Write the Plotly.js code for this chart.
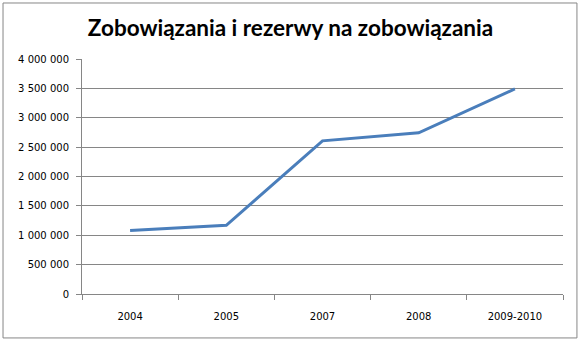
<!DOCTYPE html>
<html><head><meta charset="utf-8">
<script src="https://cdn.plot.ly/plotly-3.0.1.min.js"></script>
<style>html,body{margin:0;padding:0;background:#fff;}#chart{width:581px;height:341px;}</style>
</head><body><div id="chart"></div>
<script>
const categories = ["2004", "2005", "2007", "2008", "2009-2010"];
const values = [1080000, 1170000, 2607000, 2743000, 3490000];
const yTicks = [0, 500000, 1000000, 1500000, 2000000, 2500000, 3000000, 3500000, 4000000];
const titleText = "Zobowiązania i rezerwy na zobowiązania";

const trace = {
  x: categories, y: values, type: "scatter", mode: "lines",
  line: {color: "#4a7ebb", width: 3}, hoverinfo: "skip"
};
const layout = {
  width: 581, height: 341,
  margin: {l: 82, r: 18, t: 59, b: 47},
  paper_bgcolor: "#fff", plot_bgcolor: "#fff",
  separators: ", ",
  showlegend: false,
  title: {text: titleText, x: 0.5, xref: "container", xanchor: "center", y: 0.917, yanchor: "middle",
    font: {family: "Lato", size: 22.5, color: "#000", weight: "bold"}},
  xaxis: {type: "category", range: [-0.5, 4.5], tickson: "boundaries",
    showgrid: false, showline: true, linecolor: "#868686", linewidth: 1,
    ticks: "outside", ticklen: 5, tickcolor: "#868686", ticklabelstandoff: 13,
    tickfont: {family: "DejaVu Sans", size: 10, color: "#000"}, fixedrange: true},
  yaxis: {range: [0, 4000000], tickvals: yTicks, tickformat: ",.0f",
    showgrid: true, gridcolor: "#868686", gridwidth: 1, zeroline: false,
    showline: true, linecolor: "#868686", linewidth: 1,
    ticks: "outside", ticklen: 5, tickcolor: "#868686", ticklabelstandoff: 5,
    tickfont: {family: "DejaVu Sans", size: 10, color: "#000"}, fixedrange: true},
  shapes: [{type: "rect", xref: "paper", yref: "paper",
    x0: -0.1642, x1: 1.029, y0: -0.187, y1: 1.2383,
    line: {color: "#868686", width: 1}}]
};
Plotly.newPlot("chart", [trace], layout, {staticPlot: true, displayModeBar: false});
</script></body></html>
